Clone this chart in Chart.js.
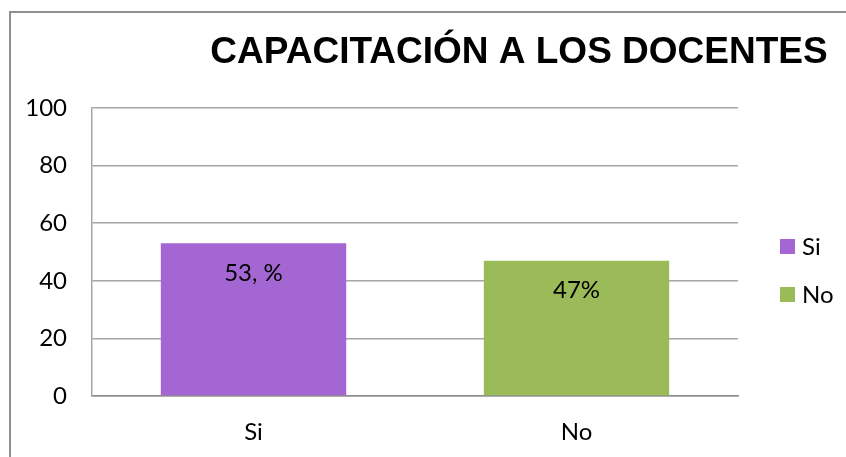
<!DOCTYPE html>
<html>
<head>
<meta charset="utf-8">
<script src="https://cdn.jsdelivr.net/npm/chart.js@4/dist/chart.umd.min.js"></script>
<style>
  html, body { margin: 0; padding: 0; background: #fff; overflow: hidden; }
  canvas { display: block; }
</style>
</head>
<body>
<canvas id="c" width="846" height="457"></canvas>
<script>
const TITLE = 'CAPACITACIÓN A LOS DOCENTES';
const categories = ['Si', 'No'];
const siValues = [53, null];
const noValues = [null, 47];
const barLabels = ['53, %', '47%'];
const yTicks = [0, 20, 40, 60, 80, 100];

const FONT = 'Lato, "Open Sans", sans-serif';

const framePlugin = {
  id: 'frame',
  beforeDraw(chart) {
    const ctx = chart.ctx;
    ctx.save();
    ctx.strokeStyle = '#8f8f8f';
    ctx.lineWidth = 2;
    ctx.beginPath();
    ctx.moveTo(10, chart.height);
    ctx.lineTo(10, 12);
    ctx.lineTo(chart.width, 12);
    ctx.stroke();
    ctx.restore();
  }
};

const titlePlugin = {
  id: 'titleDraw',
  afterDraw(chart) {
    const ctx = chart.ctx;
    ctx.save();
    ctx.font = 'bold 37px "Liberation Sans", Arial, sans-serif';
    ctx.fillStyle = '#000';
    ctx.textAlign = 'center';
    ctx.textBaseline = 'alphabetic';
    ctx.fillText(TITLE, 519, 63);
    ctx.restore();
  }
};

const legendPlugin = {
  id: 'sideLegend',
  afterDraw(chart) {
    const ctx = chart.ctx;
    ctx.save();
    ctx.font = '24px ' + FONT;
    ctx.textAlign = 'left';
    ctx.textBaseline = 'middle';
    chart.data.datasets.forEach((ds, i) => {
      const cy = 246.5 + i * 48;
      ctx.fillStyle = ds.backgroundColor;
      ctx.fillRect(780, cy - 7.5, 15, 15);
      ctx.fillStyle = '#000';
      ctx.fillText(ds.label, 802, cy + 1);
    });
    ctx.restore();
  }
};

const labelPlugin = {
  id: 'barLabels',
  afterDatasetsDraw(chart) {
    const ctx = chart.ctx;
    ctx.save();
    ctx.font = '24px ' + FONT;
    ctx.fillStyle = '#000';
    ctx.textAlign = 'center';
    ctx.textBaseline = 'middle';
    chart.data.datasets.forEach((ds, di) => {
      const meta = chart.getDatasetMeta(di);
      meta.data.forEach((bar, i) => {
        if (ds.data[i] == null) return;
        ctx.fillText(barLabels[i], bar.x, bar.y + 30);
      });
    });
    ctx.restore();
  }
};

new Chart(document.getElementById('c'), {
  type: 'bar',
  data: {
    labels: categories,
    datasets: [
      { label: 'Si', data: siValues, backgroundColor: '#A366D2', borderWidth: 0 },
      { label: 'No', data: noValues, backgroundColor: '#9BBB59', borderWidth: 0 }
    ]
  },
  options: {
    responsive: false,
    animation: false,
    devicePixelRatio: 1,
    layout: { padding: { left: 0, top: 108, right: 108, bottom: 10 } },
    datasets: { bar: { grouped: false, barPercentage: 0.574, categoryPercentage: 1 } },
    plugins: {
      title: { display: false },
      tooltip: { enabled: false },
      legend: { display: false }
    },
    scales: {
      x: {
        afterFit(scale) { scale.height = 51; },
        grid: { display: false, drawTicks: false },
        border: { display: true, color: '#8c8c8c', width: 1.5 },
        ticks: { color: '#000', font: { family: FONT, size: 24 }, padding: 22 }
      },
      y: {
        min: 0, max: 100,
        afterFit(scale) { scale.width = 92; },
        afterBuildTicks(scale) { scale.ticks = yTicks.map(v => ({ value: v })); },
        grid: { color: '#a6a6a6', lineWidth: 1.5, drawTicks: false },
        border: { display: true, color: '#a6a6a6', width: 1.5 },
        ticks: { color: '#000', font: { family: FONT, size: 24 }, padding: 25 }
      }
    }
  },
  plugins: [framePlugin, titlePlugin, legendPlugin, labelPlugin]
});
</script>
</body>
</html>
